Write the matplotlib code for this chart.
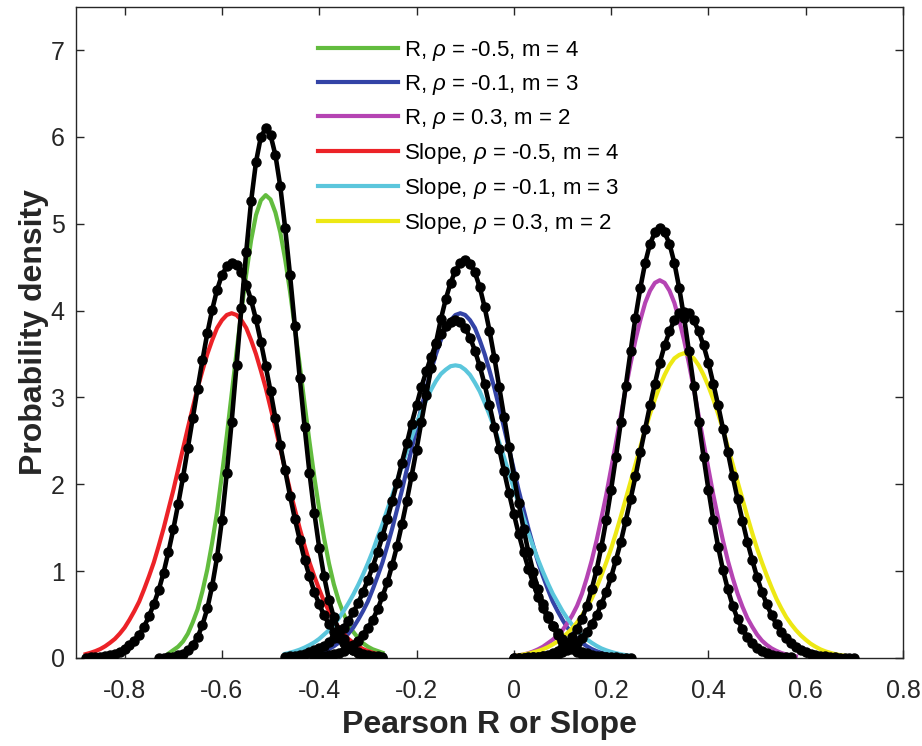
import numpy as np
import matplotlib
matplotlib.use('Agg')
import matplotlib.pyplot as plt

plt.rcParams['font.family'] = ['Liberation Sans', 'DejaVu Sans']
plt.rcParams['mathtext.fontset'] = 'custom'
plt.rcParams['mathtext.rm'] = 'Liberation Sans'
plt.rcParams['mathtext.it'] = 'Liberation Sans:italic'

STEP = 0.01

# theoretical curves (coloured), x starts + y values
r_a_x0 = -0.71
r_a_y = [0.05, 0.09, 0.13, 0.19, 0.28, 0.41, 0.56, 0.77, 1.02, 1.33, 1.68, 2.11, 2.56, 3.04, 3.52,
         3.99, 4.42, 4.81, 5.10, 5.27, 5.33, 5.28, 5.13, 4.90, 4.59, 4.22, 3.80, 3.37, 2.92, 2.49,
         2.08, 1.71, 1.38, 1.09, 0.85, 0.66, 0.51, 0.39, 0.30, 0.23, 0.17, 0.13, 0.10, 0.08, 0.06]

r_b_x0 = -0.42
r_b_half = [0.033, 0.044, 0.060, 0.079, 0.103, 0.135, 0.175, 0.22, 0.28, 0.35, 0.44, 0.54, 0.65, 0.79,
            0.94, 1.10, 1.29, 1.49, 1.71, 1.93, 2.17, 2.41, 2.65, 2.88, 3.11, 3.31, 3.50, 3.66, 3.80,
            3.89, 3.95]
r_b_y = r_b_half + [3.97] + r_b_half[::-1]

r_c_x0 = 0.00
r_c_y = [0.02, 0.03, 0.04, 0.055, 0.075, 0.10, 0.13, 0.17, 0.21, 0.26, 0.32, 0.40, 0.49, 0.60,
         0.74, 0.92, 1.12, 1.35, 1.61, 1.88, 2.18, 2.48, 2.79, 3.10, 3.39, 3.66, 3.89, 4.09, 4.23,
         4.32, 4.35, 4.32, 4.23, 4.09, 3.89, 3.66, 3.39, 3.10, 2.79, 2.48, 2.18, 1.88, 1.61, 1.35,
         1.12, 0.92, 0.74, 0.59, 0.46, 0.36, 0.27, 0.20, 0.15, 0.11, 0.081, 0.057, 0.040, 0.028, 0.019]

s_a_x0 = -0.88
s_a_y = [0.044, 0.060, 0.079, 0.103, 0.135, 0.175, 0.22, 0.28, 0.35, 0.44, 0.54, 0.65, 0.79, 0.94,
         1.10, 1.29, 1.49, 1.71, 1.93, 2.17, 2.41, 2.65, 2.88, 3.11, 3.31, 3.50, 3.66, 3.80, 3.89,
         3.95, 3.97, 3.95, 3.89, 3.80, 3.66, 3.50, 3.31, 3.11, 2.88, 2.65, 2.41, 2.17, 1.93, 1.71,
         1.49, 1.29, 1.10, 0.94, 0.79, 0.65, 0.54, 0.44, 0.35, 0.28, 0.22, 0.175, 0.135, 0.103,
         0.079, 0.060, 0.044]

s_b_x0 = -0.47
s_b_y = [0.047, 0.061, 0.077, 0.096, 0.12, 0.148, 0.18, 0.22, 0.27, 0.32, 0.385, 0.455, 0.54, 0.63,
         0.73, 0.84, 0.96, 1.09, 1.23, 1.39, 1.54, 1.71, 1.87, 2.04, 2.21, 2.38, 2.54, 2.70, 2.84,
         2.97, 3.09, 3.19, 3.27, 3.32, 3.36, 3.37, 3.36, 3.32, 3.26, 3.17, 3.07, 2.94, 2.80, 2.65,
         2.48, 2.31, 2.13, 1.95, 1.78, 1.61, 1.44, 1.28, 1.13, 0.99, 0.86, 0.74, 0.64, 0.54, 0.455,
         0.38, 0.32, 0.26, 0.215, 0.175, 0.14, 0.11, 0.088, 0.07, 0.055, 0.042, 0.033, 0.025]

s_c_x0 = 0.01
s_c_y = [0.03, 0.04, 0.05, 0.065, 0.08, 0.10, 0.125, 0.155, 0.19, 0.235, 0.285, 0.34, 0.41, 0.49,
         0.58, 0.68, 0.81, 0.95, 1.10, 1.26, 1.44, 1.63, 1.83, 2.03, 2.23, 2.43, 2.63, 2.81, 2.98,
         3.13, 3.26, 3.37, 3.45, 3.49, 3.51, 3.49, 3.45, 3.37, 3.26, 3.13, 2.98, 2.81, 2.63, 2.43,
         2.23, 2.03, 1.83, 1.63, 1.44, 1.26, 1.10, 0.95, 0.81, 0.68, 0.57, 0.47, 0.39, 0.32, 0.26,
         0.21, 0.165, 0.13, 0.10, 0.077, 0.06, 0.045, 0.034, 0.025, 0.019, 0.014]

# simulated densities (black with dots)
sim_ra_x0 = -0.73
sim_ra_y = [0.002, 0.004, 0.008, 0.016, 0.03, 0.05, 0.09, 0.15, 0.24, 0.38, 0.57, 0.83, 1.16, 1.59,
            2.13, 2.72, 3.37, 4.03, 4.68, 5.26, 5.71, 6.00, 6.10, 6.02, 5.79, 5.43, 4.95, 4.41,
            3.82, 3.22, 2.66, 2.13, 1.67, 1.27, 0.94, 0.67, 0.47, 0.32, 0.22, 0.14, 0.09, 0.057,
            0.034, 0.02, 0.012, 0.007, 0.004]

sim_rb_x0 = -0.41
sim_rb_y = [0.009, 0.014, 0.020, 0.029, 0.041, 0.058, 0.081, 0.11, 0.15, 0.20, 0.27, 0.35, 0.44,
            0.56, 0.71, 0.87, 1.07, 1.29, 1.54, 1.81, 2.10, 2.40, 2.72, 3.03, 3.34, 3.63, 3.90,
            4.13, 4.32, 4.46, 4.55, 4.58, 4.54, 4.44, 4.27, 4.04, 3.77, 3.46, 3.12, 2.78, 2.43,
            2.10, 1.78, 1.49, 1.22, 0.99, 0.79, 0.62, 0.48, 0.37, 0.27, 0.20, 0.147, 0.105, 0.074,
            0.051, 0.035, 0.023, 0.016, 0.010, 0.006, 0.004]

sim_rc_x0 = 0.00
sim_rc_y = [0.001, 0.002, 0.004, 0.006, 0.009, 0.014, 0.022, 0.034, 0.052, 0.079, 0.116, 0.168,
            0.24, 0.33, 0.45, 0.60, 0.79, 1.01, 1.28, 1.59, 1.94, 2.32, 2.72, 3.13, 3.53, 3.92,
            4.26, 4.55, 4.77, 4.90, 4.95, 4.90, 4.77, 4.55, 4.26, 3.92, 3.53, 3.13, 2.72, 2.32,
            1.94, 1.59, 1.28, 1.01, 0.79, 0.60, 0.45, 0.33, 0.24, 0.168, 0.116, 0.079, 0.052,
            0.034, 0.022, 0.014, 0.009, 0.006]

sim_sa_x0 = -0.88
sim_sa_y = [0.004, 0.006, 0.010, 0.015, 0.023, 0.035, 0.051, 0.074, 0.104, 0.146, 0.20, 0.27, 0.36,
            0.48, 0.62, 0.78, 0.98, 1.22, 1.48, 1.77, 2.08, 2.42, 2.76, 3.10, 3.43, 3.74, 4.01,
            4.24, 4.41, 4.51, 4.55, 4.52, 4.44, 4.30, 4.12, 3.90, 3.64, 3.36, 3.07, 2.76, 2.45,
            2.16, 1.87, 1.60, 1.36, 1.13, 0.94, 0.76, 0.62, 0.49, 0.39, 0.30, 0.23, 0.17, 0.13,
            0.096, 0.070, 0.051, 0.036, 0.026, 0.018, 0.012]

sim_sb_x0 = -0.47
sim_sb_y = [0.015, 0.021, 0.028, 0.037, 0.050, 0.066, 0.087, 0.112, 0.143, 0.18, 0.23, 0.285, 0.35,
            0.43, 0.53, 0.63, 0.76, 0.90, 1.05, 1.22, 1.40, 1.60, 1.81, 2.02, 2.25, 2.47, 2.70,
            2.91, 3.12, 3.30, 3.47, 3.62, 3.73, 3.82, 3.87, 3.89, 3.87, 3.80, 3.69, 3.54, 3.36,
            3.15, 2.91, 2.66, 2.41, 2.15, 1.90, 1.66, 1.43, 1.22, 1.03, 0.86, 0.70, 0.57, 0.46,
            0.37, 0.29, 0.22, 0.17, 0.13, 0.097, 0.071, 0.052, 0.038, 0.027, 0.019, 0.013, 0.009,
            0.006, 0.004, 0.003, 0.002]

sim_sc_x0 = 0.00
sim_sc_half = [0.001, 0.002, 0.003, 0.005, 0.008, 0.012, 0.018, 0.026, 0.036, 0.051, 0.072, 0.096,
               0.13, 0.176, 0.23, 0.30, 0.39, 0.49, 0.62, 0.76, 0.93, 1.13, 1.34, 1.58, 1.83, 2.09,
               2.37, 2.64, 2.91, 3.16, 3.40, 3.60, 3.76, 3.89, 3.97]
sim_sc_y = sim_sc_half + [3.99] + sim_sc_half[::-1]

labels = ['R, $\\rho$ = -0.5, m = 4', 'R, $\\rho$ = -0.1, m = 3', 'R, $\\rho$ = 0.3, m = 2',
          'Slope, $\\rho$ = -0.5, m = 4', 'Slope, $\\rho$ = -0.1, m = 3', 'Slope, $\\rho$ = 0.3, m = 2']
colors = ['#62BC3E', '#3343A6', '#B544B3', '#EC2227', '#5BC6DC', '#EDE814']

theory = [(r_a_x0, r_a_y), (r_b_x0, r_b_y), (r_c_x0, r_c_y),
          (s_a_x0, s_a_y), (s_b_x0, s_b_y), (s_c_x0, s_c_y)]
sims = [(sim_ra_x0, sim_ra_y), (sim_rb_x0, sim_rb_y), (sim_rc_x0, sim_rc_y),
        (sim_sa_x0, sim_sa_y), (sim_sb_x0, sim_sb_y), (sim_sc_x0, sim_sc_y)]


def xgrid(x0, y):
    return x0 + STEP * np.arange(len(y))


fig = plt.figure(figsize=(9.22, 7.46), dpi=100)
ax = fig.add_axes([0.0824, 0.118, 0.897, 0.873])

for (x0, y), c, lab in zip(theory, colors, labels):
    ax.plot(xgrid(x0, y), y, color=c, lw=3.0, label=lab, zorder=2)

for x0, y in sims:
    ax.plot(xgrid(x0, y), y, color='k', lw=3.3, marker='o', ms=6.5, zorder=3)

ax.set_xlim(-0.9, 0.8)
ax.set_ylim(0, 7.5)
ax.set_xticks(np.arange(-0.8, 0.81, 0.2))
ax.set_xticklabels(['-0.8', '-0.6', '-0.4', '-0.2', '0', '0.2', '0.4', '0.6', '0.8'])
ax.set_yticks(range(8))
ax.tick_params(direction='in', length=6, width=1, top=True, right=True,
               labelsize=18, colors='#262626')
ax.tick_params(axis='x', pad=15)
ax.tick_params(axis='y', pad=8)
for s in ax.spines.values():
    s.set_color('#262626')
    s.set_linewidth(1)

ax.set_xlabel('Pearson R or Slope', fontsize=23, fontweight='bold', color='#262626', labelpad=5)
ax.set_ylabel('Probability density', fontsize=23, fontweight='bold', color='#262626', labelpad=1)

ax.legend(loc='upper left', bbox_to_anchor=(0.2924, 0.951), frameon=False, fontsize=16,
          handlelength=3.6, handletextpad=0.27, labelspacing=0.45, borderpad=0, borderaxespad=0)

fig.savefig('out.png', dpi=100)
